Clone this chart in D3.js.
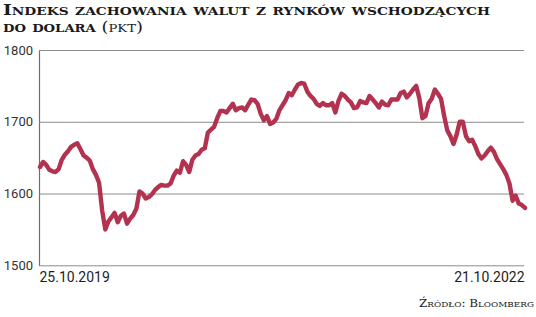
<!DOCTYPE html>
<html>
<head>
<meta charset="utf-8">
<script src="https://cdn.jsdelivr.net/npm/d3@7"></script>
<style>
body { margin: 0; background: #fff; }
svg { display: block; }
</style>
</head>
<body>
<div id="chart"></div>
<script>
var width = 536;
var height = 317;

// weekly index values
var startDate = "2019-10-25";
var endDate = "2022-10-21";
var values = [
	1637, 1644, 1640, 1633, 1631, 1630, 1634, 1647, 1654, 1659,
	1665, 1668, 1670, 1662, 1653, 1650, 1646, 1634, 1626, 1615,
	1576, 1550, 1561, 1567, 1573, 1560, 1569, 1572, 1558, 1565,
	1570, 1579, 1603, 1600, 1593, 1595, 1599, 1605, 1609, 1612,
	1611, 1611, 1614, 1625, 1632, 1629, 1645, 1640, 1630, 1647,
	1653, 1655, 1661, 1663, 1685, 1689, 1693, 1705, 1715, 1715,
	1713, 1719, 1725, 1716, 1719, 1720, 1716, 1724, 1731, 1730,
	1725, 1711, 1702, 1708, 1697, 1699, 1704, 1716, 1723, 1730,
	1740, 1737, 1745, 1752, 1754, 1753, 1742, 1736, 1732, 1725,
	1722, 1726, 1723, 1723, 1726, 1713, 1729, 1739, 1736, 1731,
	1727, 1719, 1720, 1729, 1727, 1726, 1736, 1731, 1726, 1720,
	1728, 1724, 1723, 1731, 1731, 1731, 1740, 1742, 1734, 1739,
	1745, 1750, 1733, 1705, 1708, 1726, 1732, 1745, 1739, 1732,
	1708, 1688, 1680, 1669, 1682, 1700, 1700, 1680, 1673, 1675,
	1666, 1655, 1649, 1653, 1659, 1664, 1658, 1648, 1641, 1634,
	1626, 1614, 1590, 1597, 1586, 1584, 1580
];
var yTicks = [1500, 1600, 1700, 1800];
var dateLabels = ["25.10.2019", "21.10.2022"];

var parse = d3.timeParse("%Y-%m-%d");
var t0 = parse(startDate);
var data = values.map(function(v, i) {
	return { date: d3.timeDay.offset(t0, i * 7), value: v };
});

var svg = d3.select("#chart").append("svg")
	.attr("width", width)
	.attr("height", height);

var plotLeft = 39, plotRight = 524, plotTop = 50, plotBottom = 265.3;

var x = d3.scaleTime()
	.domain([t0, parse(endDate)])
	.range([plotLeft + 1, plotRight + 1]);

var y = d3.scaleLinear()
	.domain([1500, 1800])
	.range([plotBottom, plotTop]);

// small caps done by hand: capitals full size, the rest uppercased smaller
function smallCaps(textSel, str, size, weight) {
	var re = /([^a-ząćęłńóśźż]+)|([a-ząćęłńóśźż]+)/g, m;
	while ((m = re.exec(str)) !== null) {
		if (m[1]) {
			textSel.append("tspan").attr("font-size", size).attr("font-weight", weight).text(m[1]);
		} else {
			textSel.append("tspan").attr("font-size", size * 0.74).attr("font-weight", weight).text(m[2].toUpperCase());
		}
	}
}

var title1 = svg.append("text")
	.attr("x", 3).attr("y", 14.5)
	.attr("font-family", "DejaVu Serif")
	.attr("fill", "#1a1a1a")
	.attr("textLength", 487)
	.attr("lengthAdjust", "spacingAndGlyphs");
smallCaps(title1, "Indeks zachowania walut z rynków wschodzących", 14, "bold");

var title2 = svg.append("text")
	.attr("x", 3).attr("y", 32)
	.attr("font-family", "DejaVu Serif")
	.attr("fill", "#1a1a1a")
	.attr("textLength", 140)
	.attr("lengthAdjust", "spacingAndGlyphs");
smallCaps(title2, "do dolara", 14, "bold");
smallCaps(title2, " (pkt)", 14, "normal");

// y axis with gridlines
var yAxis = d3.axisLeft(y)
	.tickValues(yTicks)
	.tickSize(-(plotRight - plotLeft))
	.tickSizeOuter(0)
	.tickPadding(6)
	.tickFormat(d3.format("d"));

var gy = svg.append("g")
	.attr("transform", "translate(" + plotLeft + ",0)")
	.call(yAxis);
gy.selectAll(".tick line").attr("stroke", "#8c8c8c").attr("stroke-width", 1);
gy.select(".domain").attr("stroke", "#6e6e6e").attr("stroke-width", 1.2);
gy.selectAll(".tick text")
	.attr("font-family", "Roboto")
	.attr("font-size", 13)
	.attr("fill", "#333");

// end dates under the plot
var xAxis = d3.axisBottom(x)
	.tickValues([t0, parse(endDate)])
	.tickSize(0)
	.tickPadding(7)
	.tickFormat(function(d, i) { return dateLabels[i]; });

var gx = svg.append("g")
	.attr("transform", "translate(0," + plotBottom + ")")
	.call(xAxis);
gx.select(".domain").remove();
gx.selectAll(".tick text")
	.attr("font-family", "Roboto")
	.attr("font-size", 14)
	.attr("fill", "#1e1e1e")
	.attr("text-anchor", function(d, i) { return i === 0 ? "start" : "end"; })
	.attr("dx", -1);

var line = d3.line()
	.x(function(d) { return x(d.date); })
	.y(function(d) { return y(d.value); })
	.curve(d3.curveLinear);

svg.append("path")
	.datum(data)
	.attr("d", line)
	.attr("fill", "none")
	.attr("stroke", "#b3324f")
	.attr("stroke-width", 4.4)
	.attr("stroke-linejoin", "round")
	.attr("stroke-linecap", "round");

var source = svg.append("text")
	.attr("x", 534).attr("y", 307)
	.attr("text-anchor", "end")
	.attr("font-family", "DejaVu Serif")
	.attr("fill", "#222")
	.attr("textLength", 115)
	.attr("lengthAdjust", "spacingAndGlyphs");
smallCaps(source, "Źródło: Bloomberg", 11, "normal");
</script>
</body>
</html>
